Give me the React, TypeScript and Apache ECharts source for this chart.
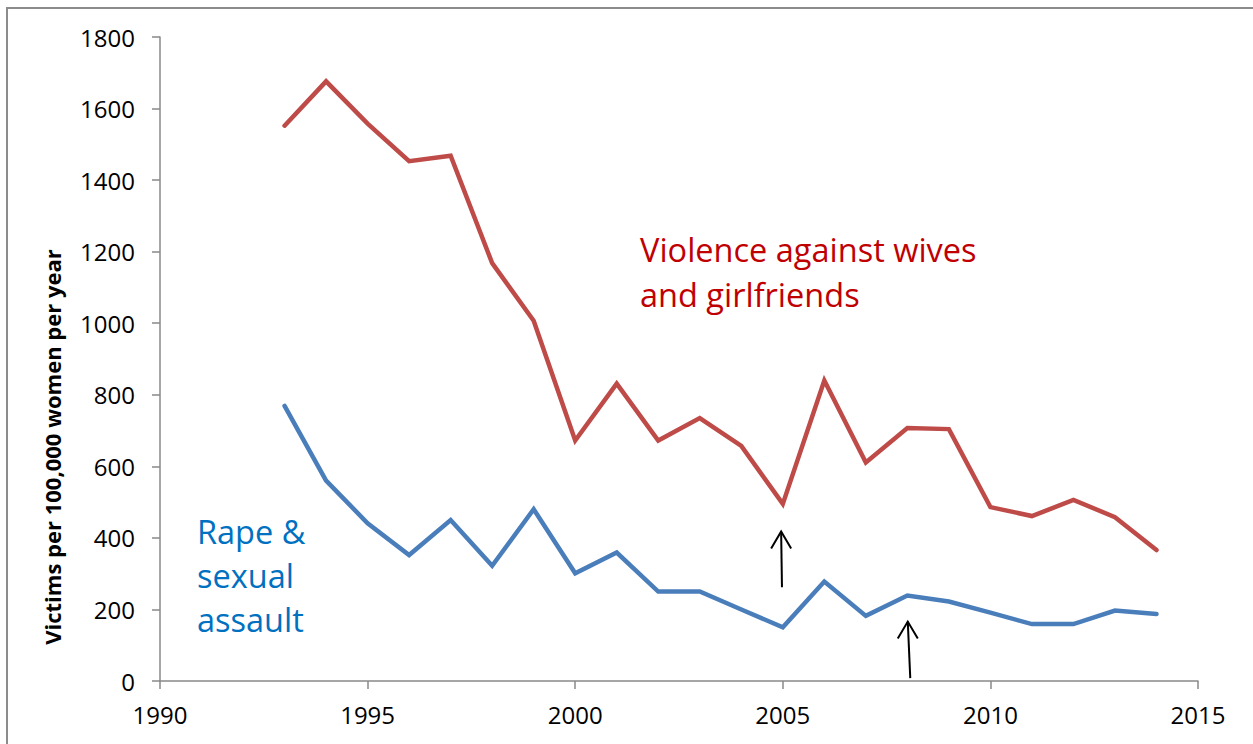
import React, { useEffect, useRef } from "react";
import * as echarts from "echarts";

const years = [1993, 1994, 1995, 1996, 1997, 1998, 1999, 2000, 2001, 2002, 2003, 2004, 2005, 2006, 2007, 2008, 2009, 2010, 2011, 2012, 2013, 2014];
const violenceWives = [1552, 1676, 1558, 1453, 1468, 1168, 1007, 672, 831, 672, 735, 657, 495, 840, 611, 707, 704, 486, 461, 506, 458, 366];
const rapeAssault = [769, 560, 441, 352, 450, 322, 480, 301, 359, 250, 250, 200, 150, 278, 182, 239, 222, 191, 159, 159, 197, 187];

// arrow annotations: [tailYear, tailValue, tipYear, tipValue]
const arrows = [
  [2004.98, 262, 2004.96, 418],
  [2008.07, 8, 2008.01, 166],
];

const yAxisTitle = "Victims per 100,000 women per year";
const redLabel = "Violence against wives\nand girlfriends";
const blueLabel = "Rape &\nsexual\nassault";

const FONT = '"Open Sans", "Noto Sans", sans-serif';

export default function App() {
  const ref = useRef<HTMLDivElement>(null);
  useEffect(() => {
    if (!ref.current) return;
    const chart = echarts.init(ref.current, null, { renderer: "svg" });
    const axisColor = "#898989";
    chart.setOption({
      animation: false,
      backgroundColor: "#ffffff",
      grid: { left: 160, right: 55, top: 37, bottom: 63 },
      xAxis: {
        type: "value",
        min: 1990,
        max: 2015,
        interval: 5,
        splitLine: { show: false },
        axisLine: { show: true, lineStyle: { color: axisColor, width: 1.5 } },
        axisTick: { show: true, inside: false, length: 8, lineStyle: { color: axisColor, width: 1.5 } },
        axisLabel: {
          color: "#000",
          fontSize: 24,
          fontFamily: FONT,
          margin: 21,
          formatter: (v: number) => String(v),
        },
      },
      yAxis: {
        type: "value",
        min: 0,
        max: 1800,
        interval: 200,
        splitLine: { show: false },
        axisLine: { show: true, lineStyle: { color: axisColor, width: 1.5 } },
        axisTick: { show: true, inside: false, length: 8, lineStyle: { color: axisColor, width: 1.5 } },
        axisLabel: {
          color: "#000",
          fontSize: 24,
          fontFamily: FONT,
          margin: 25,
          formatter: (v: number) => String(v),
        },
      },
      series: [
        {
          type: "line",
          name: "Violence against wives and girlfriends",
          data: years.map((y, i) => [y, violenceWives[i]]),
          showSymbol: false,
          symbol: "none",
          lineStyle: { color: "#BE4B48", width: 4.5, cap: "round", join: "miter" },
          itemStyle: { color: "#BE4B48" },
        },
        {
          type: "line",
          name: "Rape & sexual assault",
          data: years.map((y, i) => [y, rapeAssault[i]]),
          showSymbol: false,
          symbol: "none",
          lineStyle: { color: "#4A7EBB", width: 4.5, cap: "round", join: "miter" },
          itemStyle: { color: "#4A7EBB" },
        },
        {
          type: "custom",
          clip: false,
          encode: { x: [0, 2], y: [1, 3] },
          data: arrows,
          renderItem: (params: any, api: any) => {
            const t = api.coord([api.value(0), api.value(1)]);
            const h = api.coord([api.value(2), api.value(3)]);
            return {
              type: "group",
              children: [
                {
                  type: "line",
                  shape: { x1: t[0], y1: t[1], x2: h[0], y2: h[1] },
                  style: { stroke: "#000", lineWidth: 2 },
                },
                {
                  type: "polyline",
                  shape: { points: [[h[0] - 10, h[1] + 17], [h[0], h[1]], [h[0] + 10, h[1] + 17]] },
                  style: { stroke: "#000", fill: null, lineWidth: 2 },
                },
              ],
            };
          },
        },
      ],
      graphic: [
        {
          type: "rect",
          shape: { x: 7, y: 8, width: 1300, height: 800 },
          style: { fill: null, stroke: "#8c8c8c", lineWidth: 2 },
          silent: true,
        },
        {
          type: "text",
          x: 52,
          y: 447,
          rotation: Math.PI / 2,
          style: {
            text: yAxisTitle,
            fontFamily: FONT,
            fontWeight: "bold",
            fontSize: 22,
            fill: "#000",
            align: "center",
            verticalAlign: "middle",
          },
        },
        {
          type: "text",
          x: 640,
          y: 227,
          style: {
            text: redLabel,
            fontFamily: FONT,
            fontSize: 32.5,
            lineHeight: 45,
            fill: "#C00000",
            align: "left",
            verticalAlign: "top",
          },
        },
        {
          type: "text",
          x: 197,
          y: 509,
          style: {
            text: blueLabel,
            fontFamily: FONT,
            fontSize: 32.5,
            lineHeight: 44,
            fill: "#0070C0",
            align: "left",
            verticalAlign: "top",
          },
        },
      ],
    });
    return () => chart.dispose();
  }, []);
  return (
    <div
      ref={ref}
      style={{ position: "absolute", left: 0, top: 0, width: 1253, height: 744 }}
    />
  );
}
